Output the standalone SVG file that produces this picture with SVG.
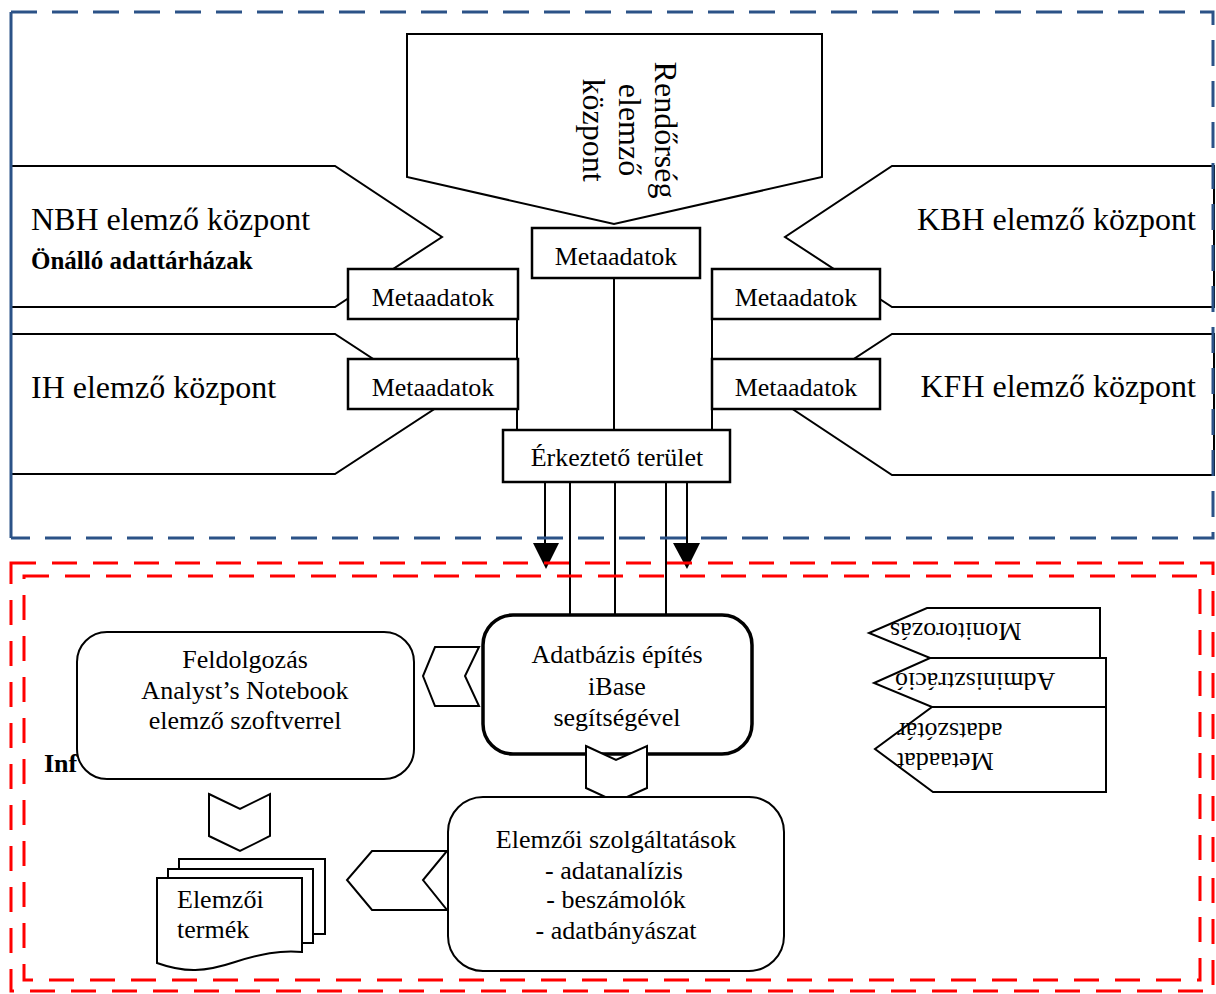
<svg xmlns="http://www.w3.org/2000/svg" width="1216" height="994" viewBox="0 0 1216 994">
<style>
  .sh { fill: #fff; stroke: #000; stroke-width: 2; stroke-linejoin: miter; }
  .bx { fill: #fff; stroke: #000; stroke-width: 2.5; }
  .ln { stroke: #000; stroke-width: 2; fill: none; }
  .t { font-family: "Liberation Serif", "Times New Roman", serif; font-size: 26px; fill: #000; }
  .big { font-size: 32px; }
  .b { font-weight: bold; }
  .m { text-anchor: middle; }
  .e { text-anchor: end; }
  .blue { fill: none; stroke: #2B5287; stroke-width: 3; stroke-dasharray: 26 15; }
  .blue-solid { fill: none; stroke: #2B5287; stroke-width: 3; }
  .red { fill: none; stroke: #FF0000; stroke-width: 3; stroke-dasharray: 25 16; }
</style>
<rect width="1216" height="994" fill="#fff"/>

<g id="rendorseg">
  <polygon class="sh" points="407,34 822,34 822,177 614,224 407,177"/>
  <text class="t big m" transform="translate(655,130) rotate(90)"><tspan x="0" y="0">Rendőrség</tspan><tspan x="0" dy="36">elemző</tspan><tspan x="0" dy="36">központ</tspan></text>
</g>

<g id="nbh">
  <polygon class="sh" points="11,166 335,166 442,237 335,307 11,307"/>
  <text class="t big" x="31" y="230">NBH elemző központ</text>
  <text class="t b" x="31" y="269" style="font-size:25px">Önálló adattárházak</text>
</g>

<g id="ih">
  <polygon class="sh" points="11,334 335,334 442,404 335,474 11,474"/>
  <text class="t big" x="31" y="398">IH elemző központ</text>
</g>

<g id="kbh">
  <polygon class="sh" points="1214,166 892,166 785,237 892,307 1214,307"/>
  <text class="t big e" x="1196" y="230">KBH elemző központ</text>
</g>

<g id="kfh">
  <polygon class="sh" points="1214,334 892,334 785,404 892,475 1214,475"/>
  <text class="t big e" x="1196" y="397">KFH elemző központ</text>
</g>

<g id="connectors">
  <line class="ln" x1="614" y1="278" x2="614" y2="430"/>
  <line class="ln" x1="517" y1="319" x2="517" y2="430"/>
  <line class="ln" x1="712" y1="319" x2="712" y2="430"/>
  <line class="ln" x1="570" y1="482" x2="570" y2="615"/>
  <line class="ln" x1="615" y1="482" x2="615" y2="615"/>
  <line class="ln" x1="666" y1="482" x2="666" y2="615"/>
  <line class="ln" x1="545" y1="482" x2="545" y2="545"/>
  <polygon points="533,543 559,543 546,569" fill="#000"/>
  <line class="ln" x1="687" y1="482" x2="687" y2="545"/>
  <polygon points="673,543 700,543 687,569" fill="#000"/>
</g>

<g id="meta-center">
  <rect class="bx" x="532" y="228" width="168" height="50"/>
  <text class="t m" x="616" y="265">Metaadatok</text>
</g>
<g id="meta-nbh">
  <rect class="bx" x="348" y="269" width="170" height="50"/>
  <text class="t m" x="433" y="306">Metaadatok</text>
</g>
<g id="meta-ih">
  <rect class="bx" x="348" y="359" width="170" height="50"/>
  <text class="t m" x="433" y="396">Metaadatok</text>
</g>
<g id="meta-kbh">
  <rect class="bx" x="712" y="269" width="168" height="50"/>
  <text class="t m" x="796" y="306">Metaadatok</text>
</g>
<g id="meta-kfh">
  <rect class="bx" x="712" y="359" width="168" height="50"/>
  <text class="t m" x="796" y="396">Metaadatok</text>
</g>

<g id="erkezteto">
  <rect class="bx" x="503" y="430" width="227" height="52"/>
  <text class="t m" x="617" y="466">Érkeztető terület</text>
</g>

<g id="inf-label">
  <text class="t b" x="44" y="772">Inf</text>
</g>

<g id="feldolgozas">
  <rect class="sh" x="77" y="632" width="337" height="147" rx="30" ry="30"/>
  <text class="t m" x="245" y="668"><tspan x="245">Feldolgozás</tspan><tspan x="245" dy="31">Analyst’s Notebook</tspan><tspan x="245" dy="30">elemző szoftverrel</tspan></text>
</g>

<g id="adatbazis">
  <rect x="483" y="615" width="269" height="139" rx="30" ry="30" fill="#fff" stroke="#000" stroke-width="3.5"/>
  <text class="t m" x="617" y="663"><tspan x="617">Adatbázis építés</tspan><tspan x="617" dy="32">iBase</tspan><tspan x="617" dy="31">segítségével</tspan></text>
</g>

<g id="chevron-left-1">
  <polygon class="sh" points="479,647 435,647 423,676 435,706 479,706 465,676"/>
</g>

<g id="chevron-down-1">
  <polygon class="sh" points="586,746 616,760 647,746 647,788 616,802 586,788"/>
</g>

<g id="elemzoi-szolg">
  <rect class="sh" x="448" y="797" width="336" height="174" rx="35" ry="35"/>
  <text class="t m" x="616" y="848"><tspan x="616">Elemzői szolgáltatások</tspan><tspan x="614" dy="31">- adatanalízis</tspan><tspan x="616" dy="29">- beszámolók</tspan><tspan x="616" dy="31">- adatbányászat</tspan></text>
</g>

<g id="chevron-left-2">
  <polygon class="sh" points="447,851 372,851 347,880 372,910 447,910 423,880"/>
</g>

<g id="chevron-down-2">
  <polygon class="sh" points="209,794 240,809 270,794 270,836 240,851 209,836"/>
</g>

<g id="elemzoi-termek">
  <rect class="sh" x="179" y="859" width="146" height="75"/>
  <rect class="sh" x="168" y="869" width="145" height="74"/>
  <path class="sh" d="M157,878 H302 V952 C280,950 260,954 235,962 C205,972 185,973 157,963 Z"/>
  <text class="t" x="177" y="908"><tspan x="177">Elemzői</tspan><tspan x="177" dy="30">termék</tspan></text>
</g>

<g id="monitorozas">
  <polygon class="sh" points="927,608 1100,608 1100,658 930,658 869,633"/>
  <text class="t e" transform="translate(890,623) rotate(180)" x="0" y="0">Monitorozás</text>
</g>
<g id="adminisztracio">
  <polygon class="sh" points="930,658 1106,658 1106,707 932,707 874,683"/>
  <text class="t e" transform="translate(895,673) rotate(180)" x="0" y="0">Adminisztráció</text>
</g>
<g id="metaadat-szotar">
  <polygon class="sh" points="932,707 1106,707 1106,792 933,792 875,749"/>
  <text class="t e" transform="translate(897,753) rotate(180)"><tspan x="0" y="0">Metaadat</tspan><tspan x="0" dy="30">adatszótár</tspan></text>
</g>

<g id="borders">
  <path class="blue" d="M11,12 H1213 V538 H11"/>
  <line class="blue-solid" x1="11" y1="12" x2="11" y2="538"/>
  <rect class="red" x="11" y="563" width="1202" height="428"/>
  <rect class="red" x="24" y="576" width="1176" height="404"/>
</g>
</svg>
